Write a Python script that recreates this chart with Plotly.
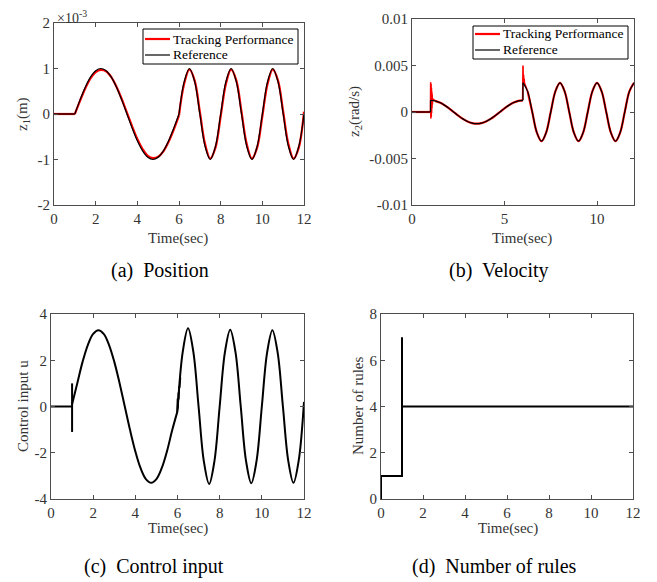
import numpy as np
import plotly.graph_objects as go

# ---------------- data ----------------
T_FLAT = [0.0, 1.0]
T_SEG1 = [1.0, 1.25, 1.5, 1.75, 2.0, 2.25, 2.5, 2.75, 3.0, 3.25, 3.5,
          3.75, 4.0, 4.25, 4.5, 4.75, 5.0, 5.25, 5.5, 5.75, 6.0]
T_SEG2 = [6.0, 6.25, 6.5, 6.75, 7.0, 7.25, 7.5, 7.75, 8.0, 8.25, 8.5, 8.75,
          9.0, 9.25, 9.5, 9.75, 10.0, 10.25, 10.5, 10.75, 11.0, 11.25, 11.5,
          11.75, 12.0]

SERIES_NAMES = ["Tracking Performance", "Reference"]

# (a) position z1, in units of 1e-3 m
Z1_REF_SEG1 = [0, 0.31, 0.59, 0.81, 0.95, 1.00, 0.95, 0.81, 0.59, 0.31, 0,
               -0.31, -0.59, -0.81, -0.95, -1.00, -0.95, -0.81, -0.59, -0.31, 0]
Z1_REF_SEG2 = [0, 0.71, 1.00, 0.71, 0, -0.71, -1.00, -0.71, 0, 0.71, 1.00, 0.71,
               0, -0.71, -1.00, -0.71, 0, 0.71, 1.00, 0.71, 0, -0.71, -1.00, -0.71, 0]
Z1_TRK_SEG1 = [0, 0.29, 0.56, 0.78, 0.92, 0.97, 0.94, 0.81, 0.60, 0.33, 0.03,
               -0.27, -0.55, -0.77, -0.92, -0.97, -0.94, -0.82, -0.61, -0.34, -0.03]
Z1_TRK_SEG2 = [-0.03, 0.67, 0.98, 0.74, 0.05, -0.66, -0.98, -0.74, -0.05, 0.66, 0.98, 0.74,
               0.05, -0.66, -0.98, -0.74, -0.05, 0.66, 0.98, 0.74, 0.05, -0.66, -0.98, -0.74, 0.05]

# (b) velocity z2, in units of 1e-3 rad/s
Z2_REF_SEG1 = [1.26, 1.20, 1.02, 0.74, 0.39, 0, -0.39, -0.74, -1.02, -1.20, -1.26,
               -1.20, -1.02, -0.74, -0.39, 0, 0.39, 0.74, 1.02, 1.20, 1.26]
Z2_REF_SEG2 = [3.14, 2.22, 0, -2.22, -3.14, -2.22, 0, 2.22, 3.14, 2.22, 0, -2.22,
               -3.14, -2.22, 0, 2.22, 3.14, 2.22, 0, -2.22, -3.14, -2.22, 0, 2.22, 3.14]
Z2_TRK_SPIKE1_T = [1.0, 1.01, 1.02, 1.03, 1.04, 1.05, 1.06, 1.07, 1.08, 1.09, 1.1, 1.12, 1.25]
Z2_TRK_SPIKE1 = [0, 3.2, -0.7, 3.0, -0.5, 2.6, -0.1, 2.2, 0.4, 1.9, 0.8, 1.4, 1.20]
Z2_TRK_SPIKE2_T = [5.98, 6.0, 6.015, 6.03, 6.045, 6.06, 6.08, 6.1, 6.25]
Z2_TRK_SPIKE2 = [1.26, 5.0, 3.0, 4.0, 3.1, 3.6, 3.1, 3.0, 2.22]

# (c) control input u
U_SEG1 = [0.1, 1.02, 1.94, 2.67, 3.14, 3.30, 3.14, 2.67, 1.94, 1.02, 0,
          -1.02, -1.94, -2.67, -3.14, -3.30, -3.14, -2.67, -1.94, -1.02, -0.2]
U_SEG2 = [-0.2, 2.37, 3.38, 2.37, 0, -2.37, -3.35, -2.37, 0, 2.35, 3.32, 2.35,
          0, -2.35, -3.32, -2.35, 0, 2.33, 3.30, 2.33, 0, -2.33, -3.30, -2.33, 0.2]
U_SPIKE_T = [1.0, 1.0]
U_SPIKE = [1.0, -1.1]
U_JITTER_T = [5.98, 6.0, 6.02, 6.04, 6.06, 6.08, 6.1, 6.14]
U_JITTER = [-0.25, 0.35, -0.1, 0.6, 0.3, 0.9, 0.8, 1.25]

# (d) number of rules
T_RULES = [0, 0, 1, 1, 1, 12]
N_RULES = [0, 1, 1, 7, 4, 4]

# ---------------- helpers ----------------
def join(*segs):
    out = []
    for s in segs:
        if out:
            out.append(None)
        out.extend(list(s))
    return out

def scaled(vals, k):
    return [None if v is None else v * k for v in vals]

# the page body has an 8px margin: the figure starts at (8, 8) in the window
OFF = 8
W, H = 657 - OFF, 582 - OFF
def px(x):
    return (x - OFF) / W
def py(y):
    return 1 - (y - OFF) / H

FONT = "Liberation Serif"
AXC = "#4d4d4d"
TXT = "#333333"
RED = "#ff0000"
COLORS = [RED, "black"]
WIDTHS = [2.2, 1.2]

fig = go.Figure()

# ---- (a) position ----
fig.add_trace(go.Scatter(
    x=join(T_FLAT, T_SEG1, T_SEG2),
    y=join([0, 0], Z1_TRK_SEG1, Z1_TRK_SEG2),
    mode="lines", line=dict(color=RED, width=2.2, shape="spline", smoothing=1),
    name=SERIES_NAMES[0], showlegend=False, xaxis="x", yaxis="y"))
fig.add_trace(go.Scatter(
    x=join(T_FLAT, T_SEG1, T_SEG2),
    y=join([0, 0], Z1_REF_SEG1, Z1_REF_SEG2),
    mode="lines", line=dict(color="black", width=1.2, shape="spline", smoothing=1),
    name=SERIES_NAMES[1], showlegend=False, xaxis="x", yaxis="y"))

# ---- (b) velocity ----
k = 1e-3
fig.add_trace(go.Scatter(
    x=join(T_FLAT, T_SEG1[1:], T_SEG2[1:]),
    y=scaled(join([0, 0], Z2_REF_SEG1[1:], Z2_REF_SEG2[1:]), k),
    mode="lines", line=dict(color=RED, width=2.2, shape="spline", smoothing=1),
    name=SERIES_NAMES[0], showlegend=False, xaxis="x2", yaxis="y2"))
fig.add_trace(go.Scatter(
    x=join(Z2_TRK_SPIKE1_T, Z2_TRK_SPIKE2_T),
    y=scaled(join(Z2_TRK_SPIKE1, Z2_TRK_SPIKE2), k),
    mode="lines", line=dict(color=RED, width=1.6, simplify=False),
    name=SERIES_NAMES[0], showlegend=False, xaxis="x2", yaxis="y2"))
fig.add_trace(go.Scatter(
    x=join(T_FLAT, [1.0, 1.0], T_SEG1, [6.0, 6.0], T_SEG2),
    y=scaled(join([0, 0], [0, Z2_REF_SEG1[0]], Z2_REF_SEG1,
                  [Z2_REF_SEG1[-1], Z2_REF_SEG2[0]], Z2_REF_SEG2), k),
    mode="lines", line=dict(color="black", width=1.2, shape="spline", smoothing=1),
    name=SERIES_NAMES[1], showlegend=False, xaxis="x2", yaxis="y2"))

# ---- (c) control input ----
fig.add_trace(go.Scatter(
    x=join(T_FLAT, U_SPIKE_T, T_SEG1, T_SEG2),
    y=join([0, 0], U_SPIKE, U_SEG1, U_SEG2),
    mode="lines", line=dict(color="black", width=2, shape="spline", smoothing=1),
    name="u", showlegend=False, xaxis="x3", yaxis="y3"))
fig.add_trace(go.Scatter(
    x=U_JITTER_T, y=U_JITTER,
    mode="lines", line=dict(color="black", width=1.6, simplify=False),
    name="u", showlegend=False, xaxis="x3", yaxis="y3"))

# ---- (d) number of rules ----
fig.add_trace(go.Scatter(
    x=T_RULES, y=N_RULES, mode="lines",
    line=dict(color="black", width=2),
    name="rules", showlegend=False, xaxis="x4", yaxis="y4"))

# ---------------- axes ----------------
def axis(domain, rng, tickvals, ticktext, anchor):
    return dict(domain=domain, range=rng, tickvals=tickvals, ticktext=ticktext,
                anchor=anchor, automargin=False, showline=True, linecolor=AXC,
                linewidth=1, mirror="ticks", ticks="inside", ticklen=4,
                tickcolor=AXC, tickwidth=1, showgrid=False, zeroline=False,
                tickfont=dict(family=FONT, size=15, color=TXT))

x12 = [0, 2, 4, 6, 8, 10, 12]
x12t = [str(v) for v in x12]

dom_a_x = [px(54), px(304)]
dom_b_x = [px(412), px(634)]
dom_c_x = [px(51), px(304)]
dom_d_x = [px(381), px(633)]
dom_top_y = [py(205), py(23)]
dom_b_y = [py(205), py(19)]
dom_bot_y = [py(499), py(314)]

layout_axes = dict(
    xaxis=axis(dom_a_x, [0, 12], x12, x12t, "y"),
    yaxis=axis(dom_top_y, [-2, 2], [-2, -1, 0, 1, 2], ["-2", "-1", "0", "1", "2"], "x"),
    xaxis2=axis(dom_b_x, [0, 12], [0, 5, 10], ["0", "5", "10"], "y2"),
    yaxis2=axis(dom_b_y, [-0.01, 0.01], [-0.01, -0.005, 0, 0.005, 0.01],
                ["-0.01", "-0.005", "0", "0.005", "0.01"], "x2"),
    xaxis3=axis(dom_c_x, [0, 12], x12, x12t, "y3"),
    yaxis3=axis(dom_bot_y, [-4, 4], [-4, -2, 0, 2, 4], ["-4", "-2", "0", "2", "4"], "x3"),
    xaxis4=axis(dom_d_x, [0, 12], x12, x12t, "y4"),
    yaxis4=axis(dom_bot_y, [0, 8], [0, 2, 4, 6, 8], ["0", "2", "4", "6", "8"], "x4"),
)

def ann(text, x, y, size=15, color=TXT, angle=0, xanchor="center", yanchor="middle"):
    return dict(text=text, x=px(x), y=py(y), xref="paper", yref="paper",
                showarrow=False, textangle=angle, xanchor=xanchor, yanchor=yanchor,
                font=dict(family=FONT, size=size, color=color))

annotations = [
    ann("×10<sup>-3</sup>", 55, 17, size=14, xanchor="left"),
    ann("z<sub>1</sub>(m)", 23, 114, angle=-90),
    ann("z<sub>2</sub>(rad/s)", 355, 112, angle=-90),
    ann("Control input u", 23, 406, angle=-90),
    ann("Number of rules", 358, 406, angle=-90),
    ann("Time(sec)", 178, 238),
    ann("Time(sec)", 522, 238),
    ann("Time(sec)", 178, 528),
    ann("Time(sec)", 508, 528),
    ann("(a)\u00a0 Position", 160, 270, size=20, color="black"),
    ann("(b)\u00a0 Velocity", 499, 270, size=20, color="black"),
    ann("(c)\u00a0 Control input", 154, 566, size=20, color="black"),
    ann("(d)\u00a0 Number of rules", 494, 566, size=20, color="black"),
]

# ---------------- legend boxes (MATLAB style, inside the axes) ----------------
shapes = []
def legend_box(x0, y0, x1, y1, rows):
    shapes.append(dict(type="rect", xref="paper", yref="paper", layer="above",
                       x0=px(x0), x1=px(x1), y0=py(y1), y1=py(y0),
                       fillcolor="white", line=dict(color="black", width=1)))
    for i, ry in enumerate(rows):
        shapes.append(dict(type="line", xref="paper", yref="paper", layer="above",
                           x0=px(x0 + 2), x1=px(x0 + 27), y0=py(ry), y1=py(ry),
                           line=dict(color=COLORS[i], width=WIDTHS[i])))
        annotations.append(ann(SERIES_NAMES[i], x0 + 28, ry, size=13.5,
                               color="black", xanchor="left"))

legend_box(143, 29, 298, 64, [39, 55])
legend_box(473, 26, 628, 59, [34, 50])

fig.update_layout(
    width=W, height=H,
    margin=dict(l=0, r=0, t=0, b=0, autoexpand=False),
    paper_bgcolor="white", plot_bgcolor="white",
    showlegend=False,
    annotations=annotations,
    shapes=shapes,
    **layout_axes,
)

fig.write_html("out.html")
